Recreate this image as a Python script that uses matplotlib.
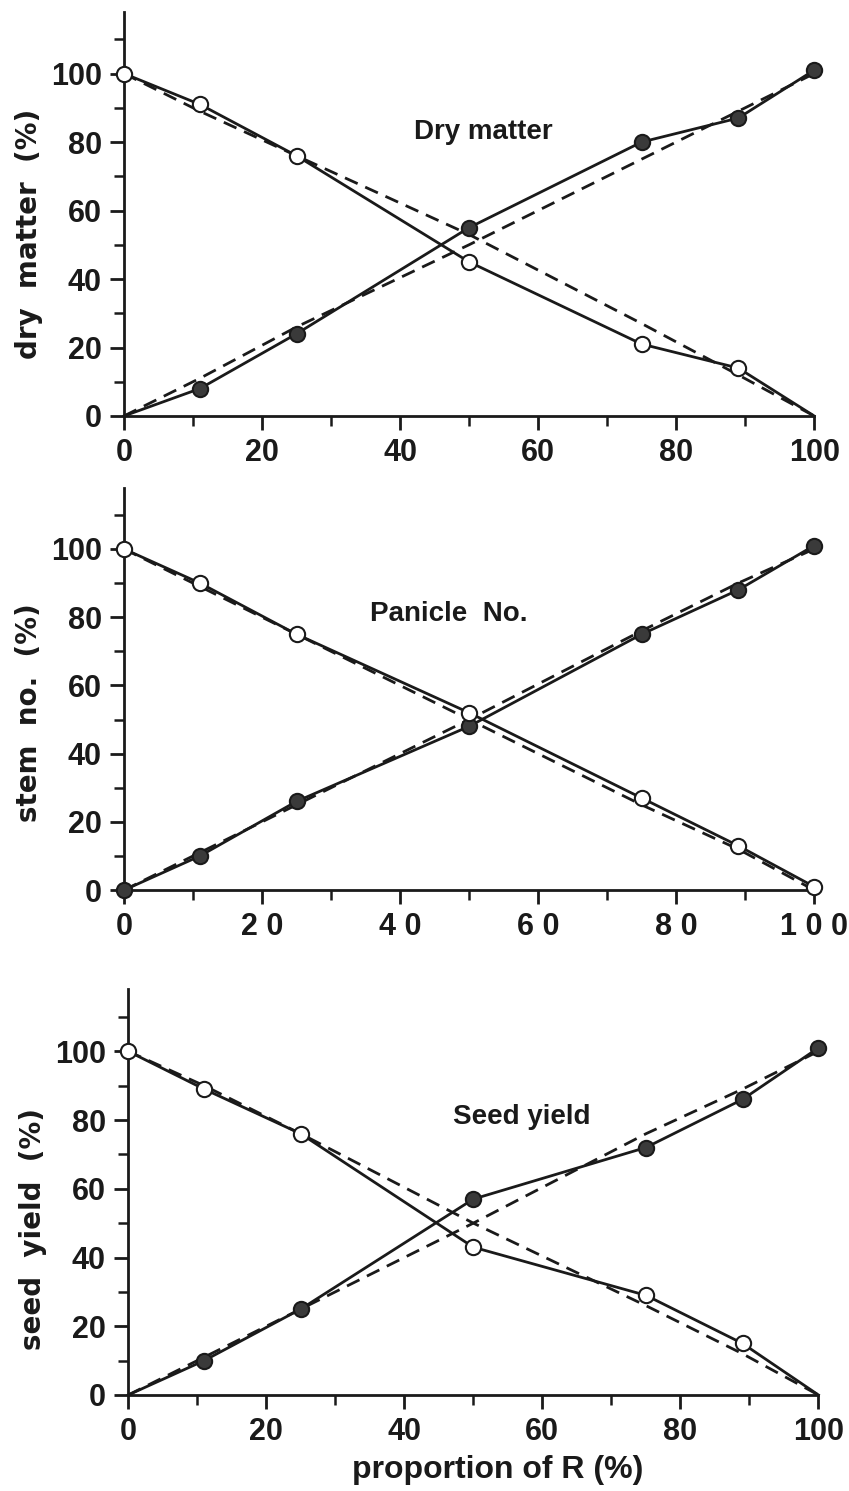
import matplotlib.pyplot as plt
from matplotlib.ticker import MultipleLocator

# proportion of R in the mixture (%)
prop_R = [0, 11, 25, 50, 75, 89, 100]

# dry matter (%)
dm_R = [0, 8, 24, 55, 80, 87, 101]
dm_other = [100, 91, 76, 45, 21, 14, 0]
dm_R_exp = [0, 11, 26, 50, 75, 89, 100]
dm_other_exp = [100, 89, 76, 53, 27, 12, 0]

# panicle / stem no. (%)
pn_R = [0, 10, 26, 48, 75, 88, 101]
pn_other = [100, 90, 75, 52, 27, 13, 1]
pn_R_exp = [0, 11, 25, 50, 76, 90, 100]
pn_other_exp = [100, 89, 75, 50, 25, 12, 0]

# seed yield (%)
sy_R = [0, 10, 25, 57, 72, 86, 101]
sy_other = [100, 89, 76, 43, 29, 15, 0]
sy_R_exp = [0, 11, 25, 50, 76, 89, 100]
sy_other_exp = [100, 90, 76, 50, 26, 12, 0]

panels = [
    ('Dry matter', 'dry  matter  (%)', dm_R, dm_other, dm_R_exp, dm_other_exp, (52, 83)),
    ('Panicle  No.', 'stem  no.  (%)', pn_R, pn_other, pn_R_exp, pn_other_exp, (47, 81)),
    ('Seed yield', 'seed  yield  (%)', sy_R, sy_other, sy_R_exp, sy_other_exp, (57, 81)),
]
xticklabels = [['0', '20', '40', '60', '80', '100'],
               ['0', '2 0', '4 0', '6 0', '8 0', '1 0 0'],
               ['0', '20', '40', '60', '80', '100']]
# which points carry a marker (end points are bare in panels 1 and 3)
mark_R = [slice(1, None), slice(0, None), slice(1, None)]
mark_other = [slice(0, 6), slice(0, None), slice(0, 6)]
ylab_pos = [0.45, 0.44, 0.41]

cond = ['Liberation Sans Narrow', 'Liberation Sans']
ink = '#1a1a1a'

fig = plt.figure(figsize=(8.49, 14.91), dpi=100)
boxes = [[0.146, 0.721, 0.813, 0.271],
         [0.146, 0.403, 0.813, 0.270],
         [0.151, 0.0644, 0.813, 0.272]]

for i, (title, ylab, r, o, re, oe, tpos) in enumerate(panels):
    ax = fig.add_axes(boxes[i])
    ax.plot(prop_R, re, '--', color=ink, lw=2, dashes=(5, 3), clip_on=False)
    ax.plot(prop_R, oe, '--', color=ink, lw=2, dashes=(5, 3), clip_on=False)
    ax.plot(prop_R, r, '-', color=ink, lw=2, marker='o', ms=11, markevery=mark_R[i],
            mfc='#3a3a3a', mec=ink, mew=1.5, clip_on=False, zorder=3)
    ax.plot(prop_R, o, '-', color=ink, lw=2, marker='o', ms=11, markevery=mark_other[i],
            mfc='white', mec=ink, mew=1.5, clip_on=False, zorder=3)

    ax.set_xlim(0, 100)
    ax.set_ylim(0, 118)
    for s in ['top', 'right']:
        ax.spines[s].set_visible(False)
    for s in ['left', 'bottom']:
        ax.spines[s].set_linewidth(2)
        ax.spines[s].set_color(ink)

    ax.xaxis.set_minor_locator(MultipleLocator(10))
    ax.yaxis.set_minor_locator(MultipleLocator(10))
    ax.set_yticks([0, 20, 40, 60, 80, 100])
    ax.set_xticks([0, 20, 40, 60, 80, 100])
    ax.set_xticklabels(xticklabels[i])
    ax.tick_params(which='major', direction='out', length=10, width=2, color=ink, pad=6)
    ax.tick_params(which='minor', direction='out', length=7, width=1.8, color=ink)

    for lab in ax.get_xticklabels() + ax.get_yticklabels():
        lab.set_family(cond)
        lab.set_fontweight('bold')
        lab.set_fontsize(22)
        lab.set_color(ink)

    ax.set_ylabel(ylab, family=['DejaVu Sans'], fontweight='bold', fontsize=20, color=ink)
    ax.yaxis.set_label_coords(-0.118, ylab_pos[i])
    ax.text(tpos[0], tpos[1], title, family=cond, fontweight='bold', fontsize=20,
            color=ink, ha='center', va='center')

    if i == 2:
        ax.set_xlabel('proportion of R (%)', family=cond, fontweight='bold',
                      fontsize=23, color=ink)
        ax.xaxis.set_label_coords(0.535, -0.148)

fig.savefig('out.png', dpi=100)
